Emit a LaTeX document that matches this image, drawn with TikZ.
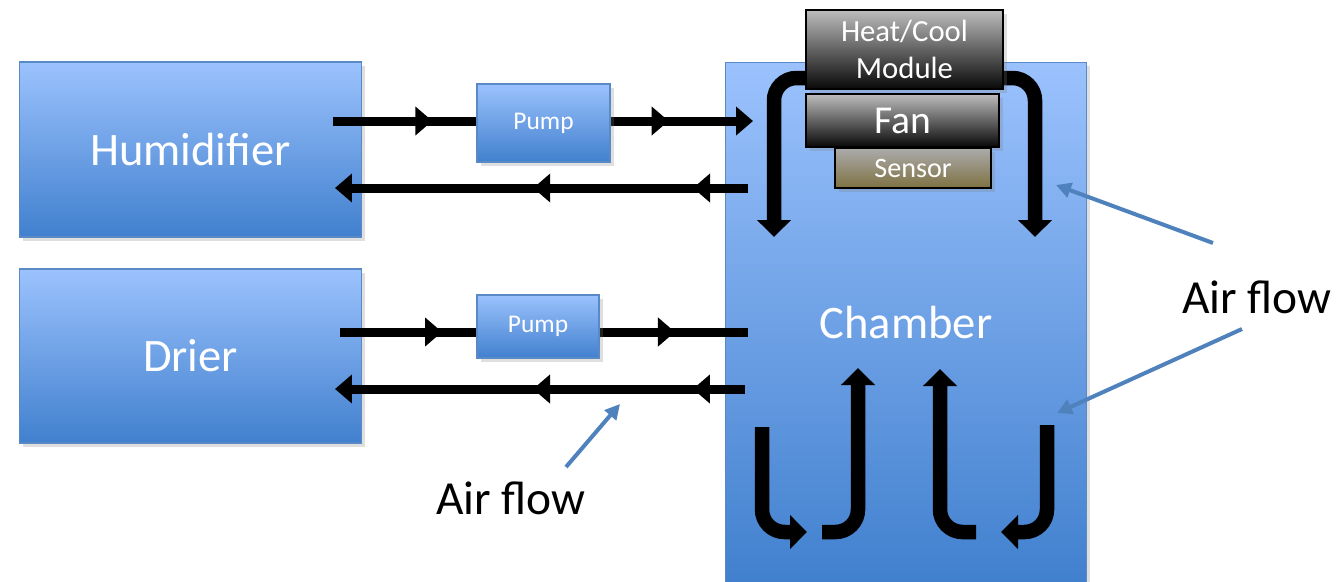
\documentclass[tikz,border=0pt]{standalone}
\usepackage{fontspec}
\setmainfont{Carlito}
\usetikzlibrary{positioning,arrows.meta,calc,shadows,decorations.markings}

\definecolor{unittop}{HTML}{9BC2FD}
\definecolor{unitbot}{HTML}{4180CE}
\definecolor{unitline}{HTML}{5A8AC6}
\definecolor{airblue}{HTML}{4F81BD}
\definecolor{modtop}{HTML}{BDBDBD}
\definecolor{modbot}{HTML}{080808}
\definecolor{senstop}{HTML}{ABABAB}
\definecolor{sensbot}{HTML}{7E7142}

\tikzset{
  pipetip/.tip={Triangle[width=0.56cm,length=0.34cm]},
  flowtip/.tip={Triangle[width=0.66cm,length=0.34cm]},
  airtip/.tip={Triangle[width=0.3cm,length=0.3cm]}
}

\begin{document}
\begin{tikzpicture}[x=0.02cm, y=-0.02cm,
  unit/.style={draw=unitline, line width=0.6pt, top color=unittop, bottom color=unitbot,
    text=white, font=\fontsize{26.5}{30}\selectfont,
    drop shadow={opacity=0.25, shadow xshift=2pt, shadow yshift=-2pt}},
  pumpbox/.style={unit, font=\fontsize{14.5}{17}\selectfont},
  module/.style={draw=black, line width=0.8pt, top color=modtop, bottom color=modbot,
    text=white, align=center,
    drop shadow={opacity=0.25, shadow xshift=2pt, shadow yshift=-2pt}},
  pipe/.style={line width=0.18cm},
  twomarks/.style 2 args={postaction={decorate}, decoration={markings,
    mark=at position #1 with {\arrow{pipetip}},
    mark=at position #2 with {\arrow{pipetip}}}},
  onemark/.style={postaction={decorate}, decoration={markings,
    mark=at position #1 with {\arrow{pipetip}}}},
  flow/.style={line width=0.29cm, rounded corners=0.45cm, -flowtip},
  airarrow/.style={draw=airblue, line width=0.08cm, -airtip},
  airlbl/.style={font=\fontsize{27}{32}\selectfont}
]
\useasboundingbox (0,0) rectangle (1340,582);

% units
\node[unit, minimum width=7.24cm, minimum height=10.44cm] (chamber) at (906,323) {Chamber};
\node[unit, minimum width=6.86cm, minimum height=3.5cm] (hum) at (190.5,149.5) {Humidifier};
\node[unit, minimum width=6.86cm, minimum height=3.48cm] (drier) at (190.5,356) {Drier};

% pipe ends
\coordinate (hsup) at (333,121);
\coordinate (csup) at (753,121);
\coordinate (cret) at (748,188);
\coordinate (hret) at (335,188);
\coordinate (dsup) at (340,332);
\coordinate (dcin) at (748,332);
\coordinate (dcret) at (745,389);
\coordinate (dret) at (335,389);

% humidifier loop
\draw[pipe, onemark=0.69] (hsup) -- (477,121) coordinate (p1in);
\draw[pipe, -pipetip, onemark=0.41] (610,121) coordinate (p1out) -- (csup);
\draw[pipe, -pipetip, twomarks={0.133}{0.52}] (cret) -- (hret);

% drier loop
\draw[pipe, onemark=0.745] (dsup) -- (477,332);
\draw[pipe, onemark=0.51] (599,332) -- (dcin);
\draw[pipe, -pipetip, twomarks={0.127}{0.517}] (dcret) -- (dret);

% pumps
\node[pumpbox, minimum width=2.66cm, minimum height=1.56cm] (pump1) at (543.5,123) {Pump};
\node[pumpbox, minimum width=2.44cm, minimum height=1.26cm] (pump2) at (538,326.5) {Pump};

% circulation under the module
\coordinate (topL) at (806,78);  \coordinate (downL) at (774,237);
\coordinate (topR) at (1003,78); \coordinate (downR) at (1035,237);
\draw[flow] (topL) -| (downL);
\draw[flow] (topR) -| (downR);

\node[module, font=\fontsize{17.5}{21}\selectfont, minimum width=3.94cm, minimum height=1.58cm]
  (heat) at (904.5,49.5) {Heat/Cool\\Module};
\node[module, font=\fontsize{22.5}{26}\selectfont, minimum width=3.86cm, minimum height=1.06cm]
  (fan) at (902.5,120.5) {Fan};
\node[module, top color=senstop, bottom color=sensbot, font=\fontsize{16}{19}\selectfont,
  minimum width=3.12cm, minimum height=0.8cm] (sensor) at (913,168) {Sensor};

% circulation at the bottom
\coordinate (b1s) at (762,427);  \coordinate (b1e) at (807,532);
\coordinate (b2s) at (822,532);  \coordinate (b2e) at (858,368);
\coordinate (b3s) at (976,532);  \coordinate (b3e) at (940,369);
\coordinate (b4s) at (1047,425); \coordinate (b4e) at (1001,532);
\draw[flow] (b1s) |- (b1e);
\draw[flow] (b2s) -| (b2e);
\draw[flow] (b3s) -| (b3e);
\draw[flow] (b4s) |- (b4e);

% labels
\node[airlbl] (airR) at (1257,297) {Air flow};
\node[airlbl] (airB) at (511,498) {Air flow};
\coordinate (aRup) at (1213,243);
\coordinate (aRlo) at (1242,329);
\coordinate (aB) at (566,467);
\draw[airarrow] (aRup) -- (1056,185);
\draw[airarrow] (aRlo) -- (1057,413);
\draw[airarrow] (aB) -- (620,404);
\end{tikzpicture}
\end{document}
